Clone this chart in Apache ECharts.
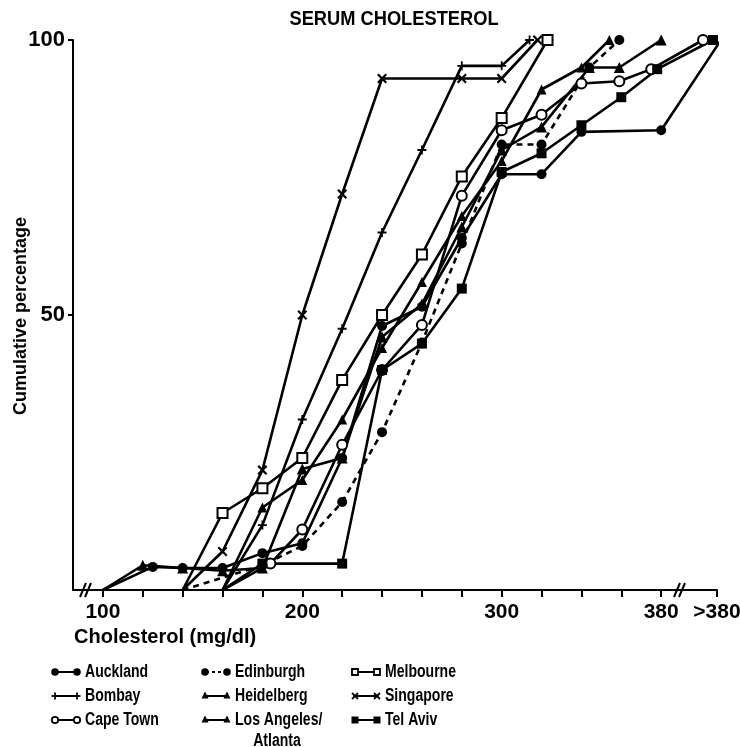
<!DOCTYPE html>
<html><head><meta charset="utf-8">
<script src="https://cdn.jsdelivr.net/npm/echarts@6/dist/echarts.min.js"></script>
<style>html,body{margin:0;padding:0;background:#fff}#c{width:740px;height:747px}</style>
</head><body><div id="c"></div>
<script>
// Data: [cholesterol (mg/dl), cumulative %]; 408 stands for ">380"
const auckland   = [[100,0],[125,4.2],[140,4],[160,4],[180,6.7],[200,8.5],[220,24],[240,48],[260,51.5],[280,64],[300,75.6],[320,75.6],[340,83.3],[380,83.6],[410,100]];
const bombay     = [[160,0],[180,11.8],[200,31],[220,47.5],[240,65],[260,80],[280,95.3],[300,95.3],[314,100]];
const capeTown   = [[160,0],[184,4.8],[200,11],[220,26.4],[240,40],[260,48.2],[280,71.7],[300,83.6],[320,86.4],[340,92.1],[359,92.5],[375,94.7],[401,100]];
const edinburgh  = [[140,0],[180,4.5],[200,8],[220,16],[240,28.7],[260,45],[280,63],[300,81],[320,81],[344,95],[359,100]];
const heidelberg = [[160,0],[180,15],[200,20],[220,31],[240,44],[260,56],[280,68],[300,78],[320,91],[340,95],[354,100]];
const losAngeles = [[100,0],[120,4.5],[140,4],[160,3.5],[180,4],[200,22],[220,24],[240,46],[260,52],[280,66],[300,80],[320,84.2],[344,95],[359,95],[380,100]];
const melbourne  = [[140,0],[160,14],[180,18.5],[200,24],[220,38.2],[240,50],[260,61],[280,75.2],[300,85.8],[323,100]];
const singapore  = [[140,0],[160,7],[180,21.8],[200,50],[220,72],[240,93],[280,93],[300,93],[318,100]];
const telAviv    = [[160,0],[180,4.8],[220,4.8],[240,40],[260,44.8],[280,54.8],[300,76],[320,79.4],[340,84.5],[360,89.6],[378,94.7],[406,100]];

const xTickValues  = [100,120,140,160,180,200,220,240,260,280,300,320,340,360,380,408];
const xLabelValues = [100,200,300,380,408];
const xLabelText   = {100:'100',200:'200',300:'300',380:'380',408:'>380'};
const yValues      = [50,100];

const PLUS  = 'path://M4,0H6V4H10V6H6V10H4V6H0V4H4Z';
const CROSS = 'path://M1.6,0L5,3.4L8.4,0L10,1.6L6.6,5L10,8.4L8.4,10L5,6.6L1.6,10L0,8.4L3.4,5L0,1.6Z';

const defs = [
  {name:'Auckland',  data:auckland,   symbol:'circle',      size:10, dash:'solid'},
  {name:'Bombay',    data:bombay,     symbol:PLUS,          size:9,  dash:'solid'},
  {name:'Cape Town', data:capeTown,   symbol:'emptyCircle', size:10, dash:'solid'},
  {name:'Edinburgh', data:edinburgh,  symbol:'circle',      size:10, dash:[6,5]},
  {name:'Heidelberg',data:heidelberg, symbol:'triangle',    size:10, dash:'solid'},
  {name:'Los Angeles/Atlanta', data:losAngeles, symbol:'triangle', size:11, dash:'solid'},
  {name:'Melbourne', data:melbourne,  symbol:'emptyRect',   size:10, dash:'solid'},
  {name:'Singapore', data:singapore,  symbol:CROSS,         size:10, dash:'solid'},
  {name:'Tel Aviv',  data:telAviv,    symbol:'rect',        size:10, dash:'solid'}
];

const series = defs.map(d => ({
  name: d.name, type:'line', symbol:d.symbol, symbolSize:d.size,
  showAllSymbol:true, animation:false,
  lineStyle:{color:'#000', width:2.6, type:d.dash},
  itemStyle:{color:'#000', borderColor:'#000', borderWidth: (d.symbol==='emptyCircle'||d.symbol==='emptyRect') ? 2.2 : 0},
  data: d.data.map(p => p[1] === 0 ? {value:p, symbol:'none'} : {value:p})
}));

const FW = '"Liberation Sans",sans-serif';

// legend drawing
const g = [];
function marker(kind, cx, cy){
  const k = '#000';
  if (kind==='dot') g.push({type:'circle', shape:{cx,cy,r:3.8}, style:{fill:k}});
  if (kind==='ring') g.push({type:'circle', shape:{cx,cy,r:3.2}, style:{fill:'#fff',stroke:k,lineWidth:1.8}});
  if (kind==='sq') g.push({type:'rect', shape:{x:cx-3,y:cy-3,width:6,height:6}, style:{fill:'#fff',stroke:k,lineWidth:1.8}});
  if (kind==='fsq') g.push({type:'rect', shape:{x:cx-3.5,y:cy-3.5,width:7,height:7}, style:{fill:k}});
  if (kind==='tri') g.push({type:'polygon', shape:{points:[[cx,cy-4.5],[cx+3.5,cy+2.5],[cx-3.5,cy+2.5]]}, style:{fill:k}});
  if (kind==='plus'){ g.push({type:'line', shape:{x1:cx-3.5,y1:cy,x2:cx+3.5,y2:cy}, style:{stroke:k,lineWidth:1.8}});
                      g.push({type:'line', shape:{x1:cx,y1:cy-3.5,x2:cx,y2:cy+3.5}, style:{stroke:k,lineWidth:1.8}}); }
  if (kind==='x'){ g.push({type:'line', shape:{x1:cx-3,y1:cy-3,x2:cx+3,y2:cy+3}, style:{stroke:k,lineWidth:1.8}});
                   g.push({type:'line', shape:{x1:cx-3,y1:cy+3,x2:cx+3,y2:cy-3}, style:{stroke:k,lineWidth:1.8}}); }
}
function txt(x, y, s, size, sx, align, rot){
  g.push({type:'text', x:x, y:y, scaleX:sx, rotation:rot||0, style:{text:s, fill:'#000', fontSize:size, fontWeight:'bold', fontFamily:FW, verticalAlign:'middle', align:align||'left'}});
}
function legendItem(x0, y, kind, dashed, label){
  g.push({type:'line', shape:{x1:x0+3,y1:y,x2:x0+23,y2:y}, style:{stroke:'#000',lineWidth:2,lineDash: dashed?[3,3]:null}});
  marker(kind, x0+2, y); marker(kind, x0+24, y);
  txt(x0+32, y, label, 18, 0.78);
}
legendItem(53, 672,'dot', false,'Auckland');
legendItem(53, 696,'plus',false,'Bombay');
legendItem(53, 720,'ring',false,'Cape Town');
legendItem(203,672,'dot', true, 'Edinburgh');
legendItem(203,696,'tri', false,'Heidelberg');
legendItem(203,720,'tri', false,'Los Angeles/');
txt(277, 741, 'Atlanta', 18, 0.78, 'center');
legendItem(353,672,'sq',  false,'Melbourne');
legendItem(353,696,'x',   false,'Singapore');
legendItem(353,720,'fsq', false,'Tel Aviv');

// title and axis names
txt(394, 19, 'SERUM CHOLESTEROL', 21, 0.87, 'center');
txt(74, 637, 'Cholesterol (mg/dl)', 20, 1.0);
txt(21, 316, 'Cumulative percentage', 18, 1.0, 'center', Math.PI/2);
// axis breaks
function brk(x){
  g.push({type:'line', shape:{x1:x-6,y1:597,x2:x,y2:583}, style:{stroke:'#000',lineWidth:2}});
  g.push({type:'line', shape:{x1:x-1,y1:597,x2:x+5,y2:583}, style:{stroke:'#000',lineWidth:2}});
}
brk(86); brk(680);

const chart = echarts.init(document.getElementById('c'), null, {renderer:'canvas'});
chart.setOption({
  animation:false,
  backgroundColor:'#fff',
  grid:{left:73, right:23, top:40, bottom:157, outerBoundsMode:'none', containLabel:false},
  xAxis:{type:'value', min:85, max:408,
    axisLine:{lineStyle:{color:'#000', width:2}},
    axisTick:{show:true, customValues:xTickValues, length:7, lineStyle:{color:'#000', width:2}},
    axisLabel:{customValues:xLabelValues, formatter:v => xLabelText[v] || '', margin:12,
      color:'#000', fontSize:21, fontWeight:'bold', fontFamily:FW},
    splitLine:{show:false}},
  yAxis:{type:'value', min:0, max:100,
    axisLine:{show:true, lineStyle:{color:'#000', width:2}},
    axisTick:{show:true, customValues:yValues, length:5, lineStyle:{color:'#000', width:2}},
    axisLabel:{customValues:yValues, margin:8, color:'#000', fontSize:22, fontWeight:'bold', fontFamily:FW},
    splitLine:{show:false}},
  series: series,
  graphic: g
});
</script></body></html>
